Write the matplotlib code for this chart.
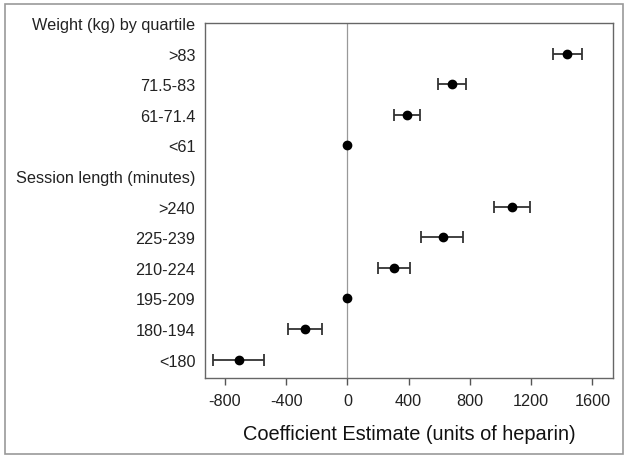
import matplotlib.pyplot as plt
from matplotlib.patches import Rectangle

plt.rcParams['font.family'] = ['Liberation Sans', 'DejaVu Sans']

# rows from top to bottom; None = header row with no estimate
labels = ['Weight (kg) by quartile', '>83', '71.5-83', '61-71.4', '<61',
          'Session length (minutes)', '>240', '225-239', '210-224', '195-209',
          '180-194', '<180']
estimate = [None, 1435, 681, 387, 0, None, 1076, 622, 305, 0, -278, -711]
lower = [None, 1340, 594, 302, 0, None, 957, 483, 200, 0, -391, -876]
upper = [None, 1535, 774, 476, 0, None, 1194, 752, 409, 0, -163, -543]
xticks = [-800, -400, 0, 400, 800, 1200, 1600]

fig = plt.figure(figsize=(6.29, 4.60), dpi=100)
ax = fig.add_axes([205 / 629, 1 - 379 / 460, (613 - 205) / 629, (379 - 24) / 460])

# outer frame round the whole figure
fig.patches.append(Rectangle((5 / 629, 5 / 460), 618 / 629, 450 / 460,
                             transform=fig.transFigure, fill=False,
                             edgecolor='#999999', linewidth=1.2))

ax.axvline(0, color='#999999', linewidth=0.9, zorder=1)

for i in range(len(labels)):
    if estimate[i] is None:
        continue
    if lower[i] != upper[i]:
        ax.errorbar(estimate[i], i,
                    xerr=[[estimate[i] - lower[i]], [upper[i] - estimate[i]]],
                    fmt='none', ecolor='#333333', elinewidth=1.3,
                    capsize=4, capthick=1.3, zorder=2)
    ax.plot(estimate[i], i, 'o', color='black', markersize=6, zorder=3)

ax.set_xlim(-930, 1735)
ax.set_ylim(11.6, 0)
ax.set_xticks(xticks)
ax.set_xticklabels([str(t) for t in xticks], fontsize=11.7, color='#222222')
ax.set_yticks(range(len(labels)))
ax.set_yticklabels(labels, fontsize=11.7, color='#222222')
ax.tick_params(axis='y', length=0, pad=7)
ax.tick_params(axis='x', length=5, width=1, color='#555555', pad=6)
for s in ax.spines.values():
    s.set_color('#666666')
    s.set_linewidth(1)
ax.set_xlabel('Coefficient Estimate (units of heparin)', fontsize=14.4,
              color='#111111', labelpad=11)

fig.savefig('out.png', dpi=100)
